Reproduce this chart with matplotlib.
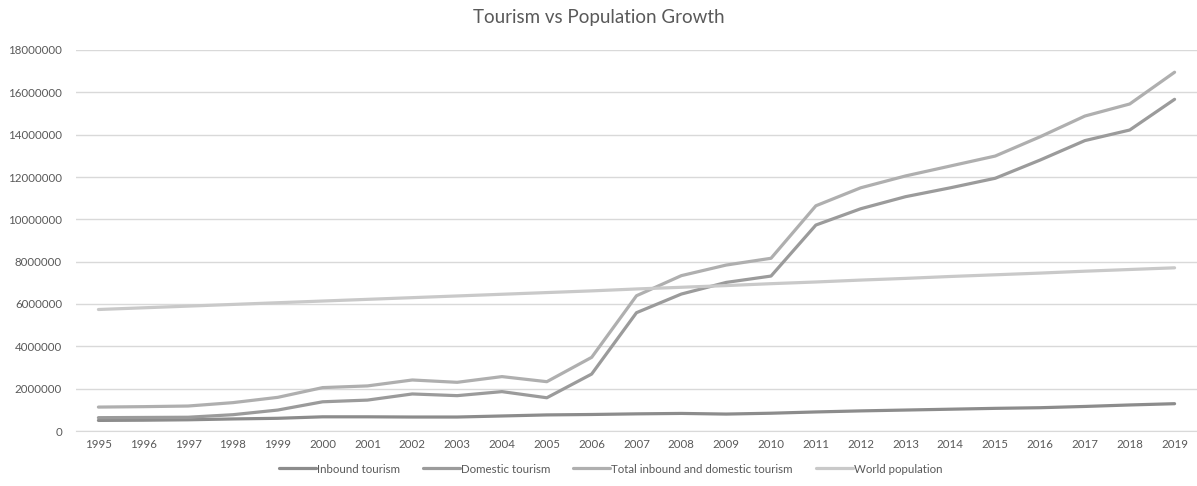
import matplotlib
matplotlib.use("Agg")
import matplotlib.pyplot as plt

years = list(range(1995, 2020))

inbound = [0.50, 0.51, 0.53, 0.57, 0.60, 0.67, 0.67, 0.66, 0.66, 0.71, 0.76, 0.78,
           0.81, 0.83, 0.80, 0.84, 0.90, 0.95, 0.99, 1.03, 1.07, 1.10, 1.16, 1.23, 1.29]
domestic = [0.63, 0.64, 0.65, 0.77, 0.99, 1.38, 1.46, 1.75, 1.67, 1.86, 1.57, 2.69,
            5.59, 6.47, 7.02, 7.32, 9.73, 10.50, 11.07, 11.49, 11.94, 12.80, 13.72, 14.22, 15.67]
total = [1.13, 1.15, 1.18, 1.34, 1.59, 2.05, 2.13, 2.41, 2.30, 2.57, 2.33, 3.48,
         6.39, 7.34, 7.84, 8.16, 10.64, 11.49, 12.05, 12.52, 12.99, 13.90, 14.88, 15.45, 16.95]
world_pop = [5.74, 5.82, 5.90, 5.98, 6.06, 6.14, 6.22, 6.30, 6.38, 6.46, 6.54, 6.62,
             6.71, 6.79, 6.87, 6.96, 7.04, 7.13, 7.21, 7.30, 7.38, 7.46, 7.55, 7.63, 7.71]

series = [
    ("Inbound tourism", inbound, "#8c8c8c"),
    ("Domestic tourism", domestic, "#9b9b9b"),
    ("Total inbound and domestic tourism", total, "#afafaf"),
    ("World population", world_pop, "#c9c9c9"),
]

text_color = "#595959"
plt.rcParams["font.family"] = ["Lato", "DejaVu Sans"]

fig = plt.figure(figsize=(11.97, 4.86), dpi=100)
ax = fig.add_axes([76 / 1197, 55 / 486, 1121 / 1197, 381 / 486])

x = list(range(len(years)))
for name, vals, color in series:
    ax.plot(x, [v * 1e6 for v in vals], color=color, lw=2.3, label=name,
            solid_capstyle="round", solid_joinstyle="round")

ax.set_xlim(-0.5, 24.5)
ax.set_ylim(0, 18000000)
ax.set_yticks(range(0, 18000001, 2000000))
ax.set_yticklabels([str(v) for v in range(0, 18000001, 2000000)])
ax.set_xticks(x)
ax.set_xticklabels([str(y) for y in years])
ax.grid(axis="y", color="#d9d9d9", lw=1)
ax.set_axisbelow(True)
for side in ["top", "right", "left"]:
    ax.spines[side].set_visible(False)
ax.spines["bottom"].set_color("#d9d9d9")
ax.tick_params(axis="both", length=0, labelsize=8.3, colors=text_color)
ax.tick_params(axis="x", pad=6)
ax.tick_params(axis="y", pad=10)

fig.text(0.5, 1 - 18 / 486, "Tourism vs Population Growth", ha="center", va="center",
         fontsize=13.5, color=text_color)

fig.legend(loc="center", bbox_to_anchor=(0.51, 1 - 469 / 486), ncol=4, frameon=False,
           fontsize=8.3, labelcolor=text_color, handlelength=3.2, handletextpad=0.1,
           columnspacing=2.0)

fig.savefig("out.png", dpi=100)
